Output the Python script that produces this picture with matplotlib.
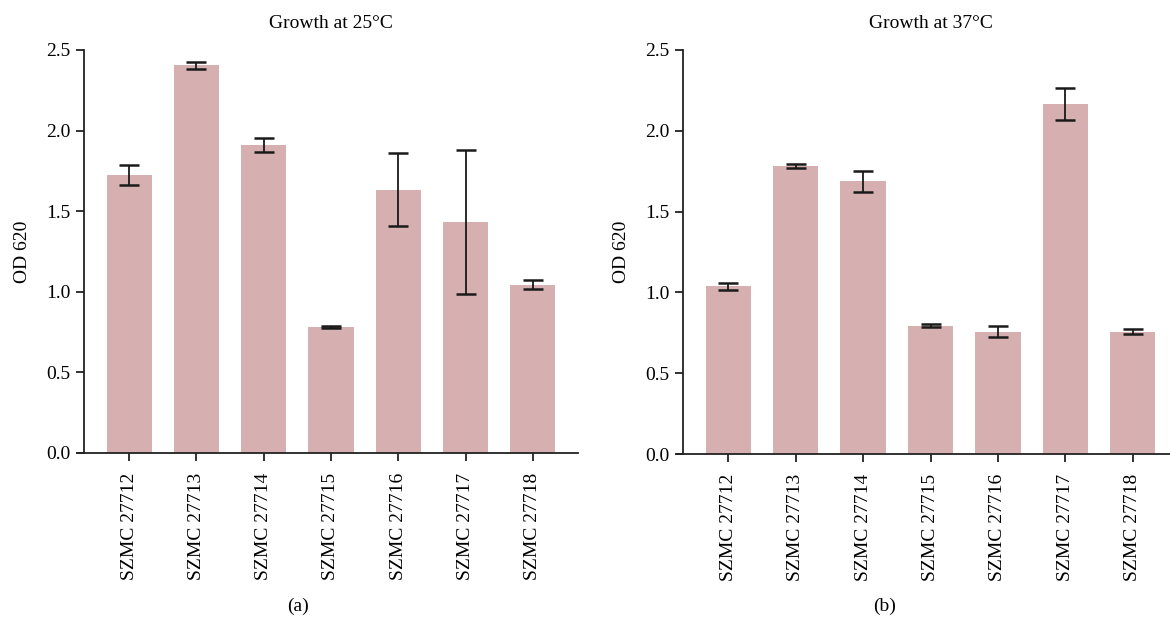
import numpy as np
import matplotlib
matplotlib.use("Agg")
import matplotlib.pyplot as plt
from matplotlib.ticker import FormatStrFormatter

strains = ["SZMC 27712", "SZMC 27713", "SZMC 27714", "SZMC 27715",
           "SZMC 27716", "SZMC 27717", "SZMC 27718"]

od_25 = [1.725, 2.405, 1.910, 0.783, 1.632, 1.434, 1.043]
err_25 = [0.060, 0.023, 0.041, 0.005, 0.226, 0.446, 0.027]

od_37 = [1.037, 1.781, 1.687, 0.795, 0.758, 2.165, 0.758]
err_37 = [0.021, 0.012, 0.067, 0.012, 0.034, 0.097, 0.018]

plt.rcParams['font.family'] = ['Liberation Serif', 'DejaVu Serif']
plt.rcParams['font.size'] = 14

bar_color = "#d6b0b0"

fig = plt.figure(figsize=(11.7, 6.2), dpi=100)
ax_a = fig.add_axes([0.0718, 0.2694, 0.4222, 0.650])
ax_b = fig.add_axes([0.5838, 0.2677, 0.4230, 0.6517])


def draw(ax, vals, errs, title):
    x = np.arange(len(strains))
    ax.bar(x, vals, width=0.67, color=bar_color, zorder=1)
    ax.errorbar(x, vals, yerr=errs, fmt='none', ecolor='#1a1a1a',
                elinewidth=1.3, capsize=7.5, capthick=1.8, zorder=2)
    ax.set_xlim(-0.67, 6.67)
    ax.set_ylim(0, 2.5)
    ax.set_yticks([0, 0.5, 1.0, 1.5, 2.0, 2.5])
    ax.yaxis.set_major_formatter(FormatStrFormatter('%.1f'))
    ax.set_xticks(x)
    ax.set_xticklabels(strains, rotation=90)
    ax.set_ylabel("OD 620", labelpad=11)
    ax.set_title(title, fontsize=14, pad=16)
    for s in ("top", "right"):
        ax.spines[s].set_visible(False)
    for s in ("left", "bottom"):
        ax.spines[s].set_linewidth(1.3)
        ax.spines[s].set_color("#222222")
    ax.spines['bottom'].set_bounds(-0.76, 6.67)
    ax.tick_params(axis='both', direction='out', length=6, width=1.3,
                   color="#222222", labelsize=14)
    ax.tick_params(axis='x', pad=8)


draw(ax_a, od_25, err_25, "Growth at 25°C")
draw(ax_b, od_37, err_37, "Growth at 37°C")

fig.text(0.255, 0.014, "(a)", ha='center', fontsize=14)
fig.text(0.756, 0.014, "(b)", ha='center', fontsize=14)

fig.savefig("out.png", dpi=100)
